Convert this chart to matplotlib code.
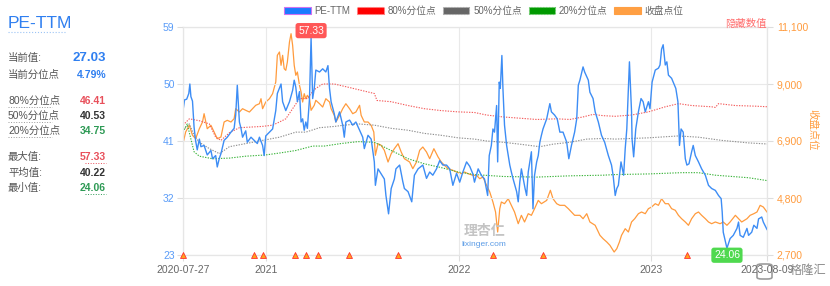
import pandas as pd
import matplotlib
matplotlib.use('Agg')
import matplotlib.pyplot as plt
from matplotlib.patches import Patch, FancyBboxPatch
from matplotlib.lines import Line2D
from matplotlib.ticker import FuncFormatter

plt.rcParams['font.family'] = ['Liberation Sans', 'Noto Sans CJK SC']

# start of the series; all x values are day offsets from here
START = pd.Timestamp('2020-07-27')
END_DAY = 1108

# PE-TTM (day offset, value)
pe_series = [
    (0, 45.8), (3, 47.5), (7, 47.6), (11, 48.5), (13, 50.0), (15, 48.0), (18, 47.3), (21, 43.2),
    (24, 41.0), (27, 39.6), (31, 41.3), (34, 40.1), (40, 40.3), (46, 38.8), (53, 39.5), (56, 38.2),
    (62, 38.7), (65, 36.9), (69, 38.3), (72, 39.0), (78, 41.1), (84, 41.6), (91, 42.4), (97, 43.0),
    (100, 45.1), (103, 49.8), (107, 44.0), (110, 43.0), (113, 41.6), (119, 42.6), (122, 40.8),
    (129, 41.6), (135, 41.1), (141, 40.6), (145, 41.6), (151, 40.3), (154, 38.7), (157, 41.8),
    (164, 42.4), (170, 42.9), (176, 45.8), (179, 48.5), (186, 50.0), (189, 47.2), (195, 45.8),
    (202, 47.2), (208, 49.0), (211, 50.6), (214, 49.5), (217, 47.2), (221, 48.8), (224, 44.0),
    (227, 44.5), (230, 42.7), (233, 44.0), (236, 43.0), (240, 47.7), (243, 57.33), (246, 47.7),
    (249, 49.3), (252, 52.2), (259, 51.9), (265, 52.4), (271, 51.9), (275, 52.9), (278, 49.3),
    (281, 47.2), (287, 45.3), (290, 44.0), (297, 45.6), (303, 43.5), (306, 41.6), (309, 44.0),
    (316, 44.3), (322, 43.5), (328, 44.0), (335, 42.7), (341, 41.6), (344, 39.8), (351, 41.9),
    (357, 41.3), (363, 37.7), (365, 34.0), (370, 36.6), (376, 35.8), (382, 35.0), (385, 32.4),
    (390, 29.5), (395, 33.5), (401, 35.0), (404, 36.6), (411, 37.2), (417, 34.6), (420, 33.5),
    (427, 33.0), (434, 31.4), (439, 35.6), (446, 36.6), (455, 37.2), (462, 35.1), (468, 36.1),
    (474, 35.6), (481, 36.6), (487, 37.9), (493, 37.2), (500, 37.2), (506, 36.6), (512, 34.0),
    (519, 35.9), (525, 34.5), (531, 36.1), (538, 37.7), (544, 37.0), (550, 35.8), (553, 34.5),
    (560, 36.6), (566, 35.6), (572, 35.0), (576, 33.3), (578, 32.4), (581, 38.7), (585, 40.3),
    (588, 42.9), (591, 42.4), (595, 46.6), (597, 37.7), (600, 50.3), (602, 49.3), (605, 54.5),
    (607, 49.3), (610, 43.5), (614, 40.3), (617, 38.7), (620, 37.2), (623, 36.1), (626, 35.1),
    (633, 33.0), (636, 31.4), (639, 34.5), (642, 36.6), (649, 33.5), (652, 32.4), (655, 36.1),
    (658, 37.7), (661, 39.3), (664, 30.3), (667, 35.6), (671, 37.7), (674, 38.7), (677, 40.8),
    (680, 41.9), (683, 42.9), (690, 44.5), (696, 46.9), (699, 45.6), (705, 45.1), (710, 44.5),
    (715, 42.4), (721, 42.4), (728, 40.8), (732, 38.2), (737, 40.3), (743, 42.4), (747, 44.5),
    (750, 49.8), (753, 50.6), (759, 52.7), (762, 51.9), (769, 50.6), (772, 48.7), (778, 47.7),
    (782, 45.6), (788, 44.0), (794, 41.9), (800, 40.8), (807, 38.7), (813, 37.2), (816, 35.6),
    (820, 32.4), (823, 33.5), (826, 34.0), (831, 37.7), (836, 35.6), (839, 39.8), (842, 42.9),
    (845, 49.2), (847, 53.5), (851, 45.6), (852, 41.3), (855, 38.5), (859, 42.9), (864, 45.6),
    (869, 47.7), (873, 47.2), (877, 45.6), (883, 47.2), (886, 46.1), (890, 50.3), (896, 52.2),
    (902, 52.5), (905, 53.0), (908, 55.5), (911, 56.2), (915, 53.0), (918, 53.5), (921, 51.4),
    (927, 50.9), (930, 50.3), (935, 49.3), (939, 47.2), (942, 40.3), (945, 42.9), (949, 42.4),
    (953, 38.2), (956, 37.2), (960, 37.4), (965, 39.3), (968, 40.3), (972, 38.7), (978, 37.7),
    (984, 36.6), (991, 35.6), (997, 34.0), (1003, 33.5), (1010, 33.2), (1016, 32.4), (1021, 31.9),
    (1023, 29.8), (1025, 26.6), (1032, 24.06), (1038, 25.6), (1044, 26.1), (1051, 27.2),
    (1054, 28.2), (1057, 26.1), (1063, 25.8), (1070, 27.2), (1073, 26.1), (1079, 26.6),
    (1083, 27.7), (1089, 27.2), (1092, 28.7), (1098, 29.0), (1101, 28.2), (1108, 27.03),
]

# index close (day offset, points)
close_series = [
    (0, 6800), (5, 7231), (12, 7478), (18, 7110), (24, 6985), (31, 7353), (37, 7600), (40, 7906),
    (46, 7353), (53, 7478), (59, 7231), (65, 6985), (72, 7047), (78, 7600), (84, 7662), (91, 7600),
    (97, 7722), (100, 8090), (107, 7968), (113, 8090), (119, 8031), (126, 7968), (132, 8090),
    (138, 8215), (145, 8274), (148, 8458), (151, 8090), (157, 8336), (164, 8458), (170, 8643),
    (176, 9073), (179, 10057), (183, 10179), (186, 9689), (189, 10057), (192, 9564), (195, 9504),
    (198, 9810), (202, 10547), (205, 10853), (208, 10426), (211, 9689), (214, 9320), (217, 9442),
    (221, 8952), (224, 8705), (227, 8336), (230, 8643), (233, 8458), (236, 8583), (240, 8458),
    (243, 8031), (249, 8215), (252, 8399), (259, 8274), (265, 8152), (271, 8458), (278, 8336),
    (281, 8090), (287, 7845), (290, 7600), (297, 7845), (303, 8090), (309, 8274), (316, 8090),
    (322, 7906), (328, 7968), (335, 8215), (338, 7845), (344, 7600), (351, 7600), (357, 7478),
    (362, 7231), (365, 6373), (370, 6800), (376, 6741), (382, 6557), (389, 6126), (395, 6432),
    (401, 6617), (408, 6800), (414, 6494), (420, 6248), (430, 6126), (436, 5880), (443, 6126),
    (449, 6557), (455, 6679), (462, 6494), (468, 6248), (476, 6617), (484, 6310), (490, 6126),
    (496, 6005), (503, 5880), (512, 5820), (519, 5758), (528, 5695), (534, 5758), (541, 5695),
    (550, 5636), (557, 5636), (563, 5511), (569, 5573), (576, 5268), (582, 5021), (588, 4653),
    (593, 4284), (597, 3547), (601, 4407), (604, 4653), (610, 4590), (617, 4774), (623, 4530),
    (629, 4284), (636, 3853), (642, 4162), (648, 3916), (655, 4222), (661, 4162), (667, 4407),
    (674, 4712), (680, 4590), (690, 4712), (697, 5084), (702, 4774), (709, 4590), (715, 4530),
    (724, 4530), (731, 4407), (737, 4284), (743, 4162), (753, 4162), (759, 4037), (766, 4222),
    (772, 3916), (782, 3794), (791, 3426), (797, 3300), (804, 3179), (810, 3057), (818, 2810),
    (823, 2932), (828, 3179), (832, 3426), (839, 3669), (845, 3547), (851, 3916), (857, 4037),
    (864, 4222), (870, 4284), (877, 4222), (883, 4407), (889, 4468), (896, 4590), (902, 4530),
    (908, 4774), (915, 4590), (921, 4590), (927, 4407), (934, 4347), (940, 4162), (946, 4037),
    (953, 3916), (959, 3794), (965, 4037), (972, 4222), (978, 4284), (984, 4162), (991, 4037),
    (997, 3916), (1003, 3853), (1010, 3916), (1019, 3853), (1025, 3916), (1032, 3794),
    (1038, 3916), (1048, 4162), (1054, 4037), (1060, 3916), (1070, 4037), (1076, 4162),
    (1083, 4222), (1089, 4284), (1095, 4530), (1101, 4468), (1108, 4284),
]

# rolling percentile lines
p80_series = [
    (0, 43.5), (12, 44.5), (31, 44.2), (50, 43.7), (62, 41.6), (72, 41.1), (88, 42.3), (107, 43.1),
    (150, 43.3), (170, 43.5), (183, 44.0), (195, 44.5), (208, 46.1), (221, 47.7), (236, 47.7),
    (243, 48.5), (252, 49.3), (265, 50.0), (287, 50.0), (313, 49.5), (338, 49.0), (363, 48.5),
    (368, 47.4), (395, 47.2), (427, 46.6), (458, 46.1), (490, 45.8), (522, 45.6), (553, 45.5),
    (576, 45.1), (607, 44.8), (639, 44.6), (671, 44.4), (709, 44.5), (734, 44.4), (759, 44.8),
    (778, 45.2), (797, 45.0), (820, 44.9), (851, 45.1), (883, 45.6), (915, 46.4), (940, 46.9),
    (965, 46.6), (1003, 46.4), (1010, 46.3), (1016, 46.9), (1048, 46.6), (1086, 46.5), (1108, 46.41),
]
p50_series = [
    (0, 42.7), (12, 43.7), (21, 41.9), (31, 40.8), (50, 39.8), (69, 39.0), (88, 40.1), (107, 40.4),
    (151, 41.1), (183, 41.6), (214, 42.4), (233, 42.4), (259, 43.1), (287, 43.3), (306, 43.5),
    (332, 43.7), (363, 43.5), (395, 43.0), (427, 42.7), (458, 42.2), (490, 41.9), (522, 41.5),
    (553, 41.3), (576, 41.0), (607, 40.8), (639, 40.5), (677, 40.1), (702, 40.5), (734, 40.8),
    (766, 41.3), (797, 41.4), (820, 41.3), (851, 41.4), (883, 41.5), (940, 41.8), (978, 41.6),
    (1022, 41.1), (1073, 40.7), (1108, 40.53),
]
p20_series = [
    (0, 42.4), (8, 43.7), (15, 41.3), (21, 39.3), (31, 38.6), (56, 38.2), (88, 38.3), (119, 38.6),
    (157, 38.8), (183, 39.1), (214, 39.5), (246, 40.2), (268, 40.2), (300, 40.6), (332, 40.9),
    (363, 40.8), (395, 39.5), (427, 38.2), (458, 37.4), (490, 36.8), (522, 36.1), (553, 35.7),
    (607, 35.4), (671, 35.3), (734, 35.5), (797, 35.6), (820, 35.7), (883, 35.8), (946, 36.0),
    (978, 36.0), (1010, 35.6), (1073, 35.2), (1108, 34.75),
]

# event markers along the bottom
event_days = [0, 134, 151, 212, 233, 256, 315, 408, 588, 683, 957]

# left summary panel
stat_labels = ['当前值:', '当前分位点', '80%分位点', '50%分位点', '20%分位点', '最大值:', '平均值:', '最小值:']
stat_values = ['27.03', '4.79%', '46.41', '40.53', '34.75', '57.33', '40.22', '24.06']
stat_colors = ['#2f7ff0', '#2f7ff0', '#e8505b', '#333333', '#2e9a55', '#e8505b', '#333333', '#2e9a55']

pe_ticks = [23, 32, 41, 50, 59]
close_ticks = [2700, 4800, 6900, 9000, 11100]

BLUE = '#3d8df5'
ORANGE = '#ff9b3d'
RED = '#f45b5b'
GREY = '#8f8f8f'
GREEN = '#3cb43c'


def to_dates(days):
    return START + pd.to_timedelta(days, unit='D')


def split(series):
    d, v = zip(*series)
    return to_dates(list(d)), list(v)


W, H = 830, 286
fig = plt.figure(figsize=(W / 100, H / 100), dpi=100)
ax = fig.add_axes([183 / W, 1 - 255 / H, (767 - 183) / W, (255 - 27) / H])
ax2 = ax.twinx()
ax.set_zorder(ax2.get_zorder() + 1)
ax.patch.set_visible(False)

# close on the right axis
cd, cv = split(close_series)
ax2.plot(cd, cv, color=ORANGE, lw=0.9)
ax2.set_ylim(close_ticks[0], close_ticks[-1])
ax2.set_yticks(close_ticks)
ax2.yaxis.set_major_formatter(FuncFormatter(lambda v, p: f'{int(v):,}'))
ax2.tick_params(axis='y', colors='#dddddd', labelcolor=ORANGE, labelsize=7.5, length=4, pad=3)

# percentile lines and PE on the left axis
for s, c in [(p80_series, RED), (p50_series, GREY), (p20_series, GREEN)]:
    d, v = split(s)
    ax.plot(d, v, color=c, lw=0.8, ls=(0, (1.2, 1.2)))
pd_, pv = split(pe_series)
ax.plot(pd_, pv, color=BLUE, lw=1.0)

ax.scatter(to_dates(event_days), [pe_ticks[0]] * len(event_days), marker='^', s=18,
           facecolor='#ffa31a', edgecolor='#ff3030', linewidths=0.6, clip_on=False, zorder=6)

ax.set_ylim(pe_ticks[0], pe_ticks[-1])
ax.set_yticks(pe_ticks)
ax.tick_params(axis='y', colors='#dddddd', labelcolor='#5a9cf8', labelsize=7.5, length=4, pad=2)
ax.set_xlim(START, START + pd.Timedelta(days=END_DAY))
xt = [START, pd.Timestamp('2021-01-01'), pd.Timestamp('2022-01-01'), pd.Timestamp('2023-01-01'),
      START + pd.Timedelta(days=END_DAY)]
ax.set_xticks(xt)
ax.set_xticklabels(['2020-07-27', '2021', '2022', '2023', xt[-1].strftime('%Y-%m-%d')])
ax.tick_params(axis='x', colors='#dddddd', labelcolor='#666666', labelsize=7.5, length=4, pad=3)
ax.grid(True, color='#e9e9e9', lw=0.8)
ax.set_axisbelow(True)
for a in (ax, ax2):
    for side in a.spines:
        a.spines[side].set_color('#e6e6e6')
        a.spines[side].set_linewidth(0.8)
ax2.tick_params(axis='x', length=0)

# max / min labels
ax.annotate('57.33', xy=(to_dates([243])[0], 57.33), xytext=(0, 5), textcoords='offset points',
            ha='center', va='center', color='white', fontsize=7.5, zorder=8,
            bbox=dict(boxstyle='round,pad=0.25', fc='#ff5757', ec='none'))
ax.annotate('24.06', xy=(to_dates([1032])[0], 24.06), xytext=(0, -5), textcoords='offset points',
            ha='center', va='center', color='white', fontsize=7.5, zorder=8, annotation_clip=False,
            bbox=dict(boxstyle='round,pad=0.25', fc='#4fd94f', ec='none'))

# legend
handles = [
    Patch(fc='#1a7bff', ec='#d070f0', lw=0.8),
    Patch(fc='#ff0000', ec='#ff8080', lw=0.8, ls=':'),
    Patch(fc='#666666', ec='#aaaaaa', lw=0.8, ls=':'),
    Patch(fc='#009900', ec='#66cc66', lw=0.8, ls=':'),
    Patch(fc='#ff9f43', ec='#ff9f43', lw=0.8),
]
fig.legend(handles, ['PE-TTM', '80%分位点', '50%分位点', '20%分位点', '收盘点位'],
           loc='center', bbox_to_anchor=(484 / W, 1 - 11 / H), ncol=5, frameon=False,
           fontsize=7, labelcolor='#666666', handlelength=2.7, handleheight=0.8,
           handletextpad=0.4, columnspacing=0.7)

fig.text(767 / W, 1 - 24 / H, '隐藏数值', color='#ff6b6b', fontsize=7.5, ha='right', va='center')
fig.text(812 / W, 1 - 130 / H, '收盘点位', color=ORANGE, fontsize=7.5, rotation=270,
         ha='center', va='center')

# left panel
fig.text(8 / W, 1 - 23 / H, 'PE-TTM', color='#2f7ff0', fontsize=12.5, ha='left', va='center')
fig.add_artist(Line2D([8 / W, 65 / W], [1 - 32 / H] * 2, color='#9cc4f5', lw=0.8, ls=':'))
row_y = [58, 75, 101, 116, 131, 157, 173, 188]
for i, (lab, val, col, y) in enumerate(zip(stat_labels, stat_values, stat_colors, row_y)):
    fig.text(8 / W, 1 - y / H, lab, color='#555555', fontsize=7.5, ha='left', va='center')
    size = 9.5 if i == 0 else 7.5
    fig.text(106 / W, 1 - y / H, val, color=col, fontsize=size, fontweight='bold',
             ha='right', va='center')
    if 2 <= i <= 4:
        fig.add_artist(Line2D([8 / W, 52 / W], [1 - (y + 6) / H] * 2, color='#999999', lw=0.7, ls=':'))
    if i in (5, 7):
        fig.add_artist(Line2D([85 / W, 106 / W], [1 - (y + 6) / H] * 2, color=col, lw=0.7, ls=':'))

# watermarks
fig.text(484 / W, 1 - 231 / H, '理杏仁', color='#c4c4c4', fontsize=10, fontweight='bold',
         ha='center', va='center')
fig.text(484 / W, 1 - 244 / H, 'lixinger.com', color='#5a9be6', fontsize=6, ha='center', va='center')
fig.add_artist(FancyBboxPatch((757 / W, 1 - 279 / H), 15 / W, 15 / H,
                              boxstyle='round,pad=0,rounding_size=0.006', fc='white', ec='#8a8a8a',
                              lw=1.2, alpha=0.85, transform=fig.transFigure))
fig.text(790 / W, 1 - 271 / H, '格隆汇', color='#8a8a8a', fontsize=8.8, ha='left', va='center')

fig.savefig('out.png', dpi=100)
